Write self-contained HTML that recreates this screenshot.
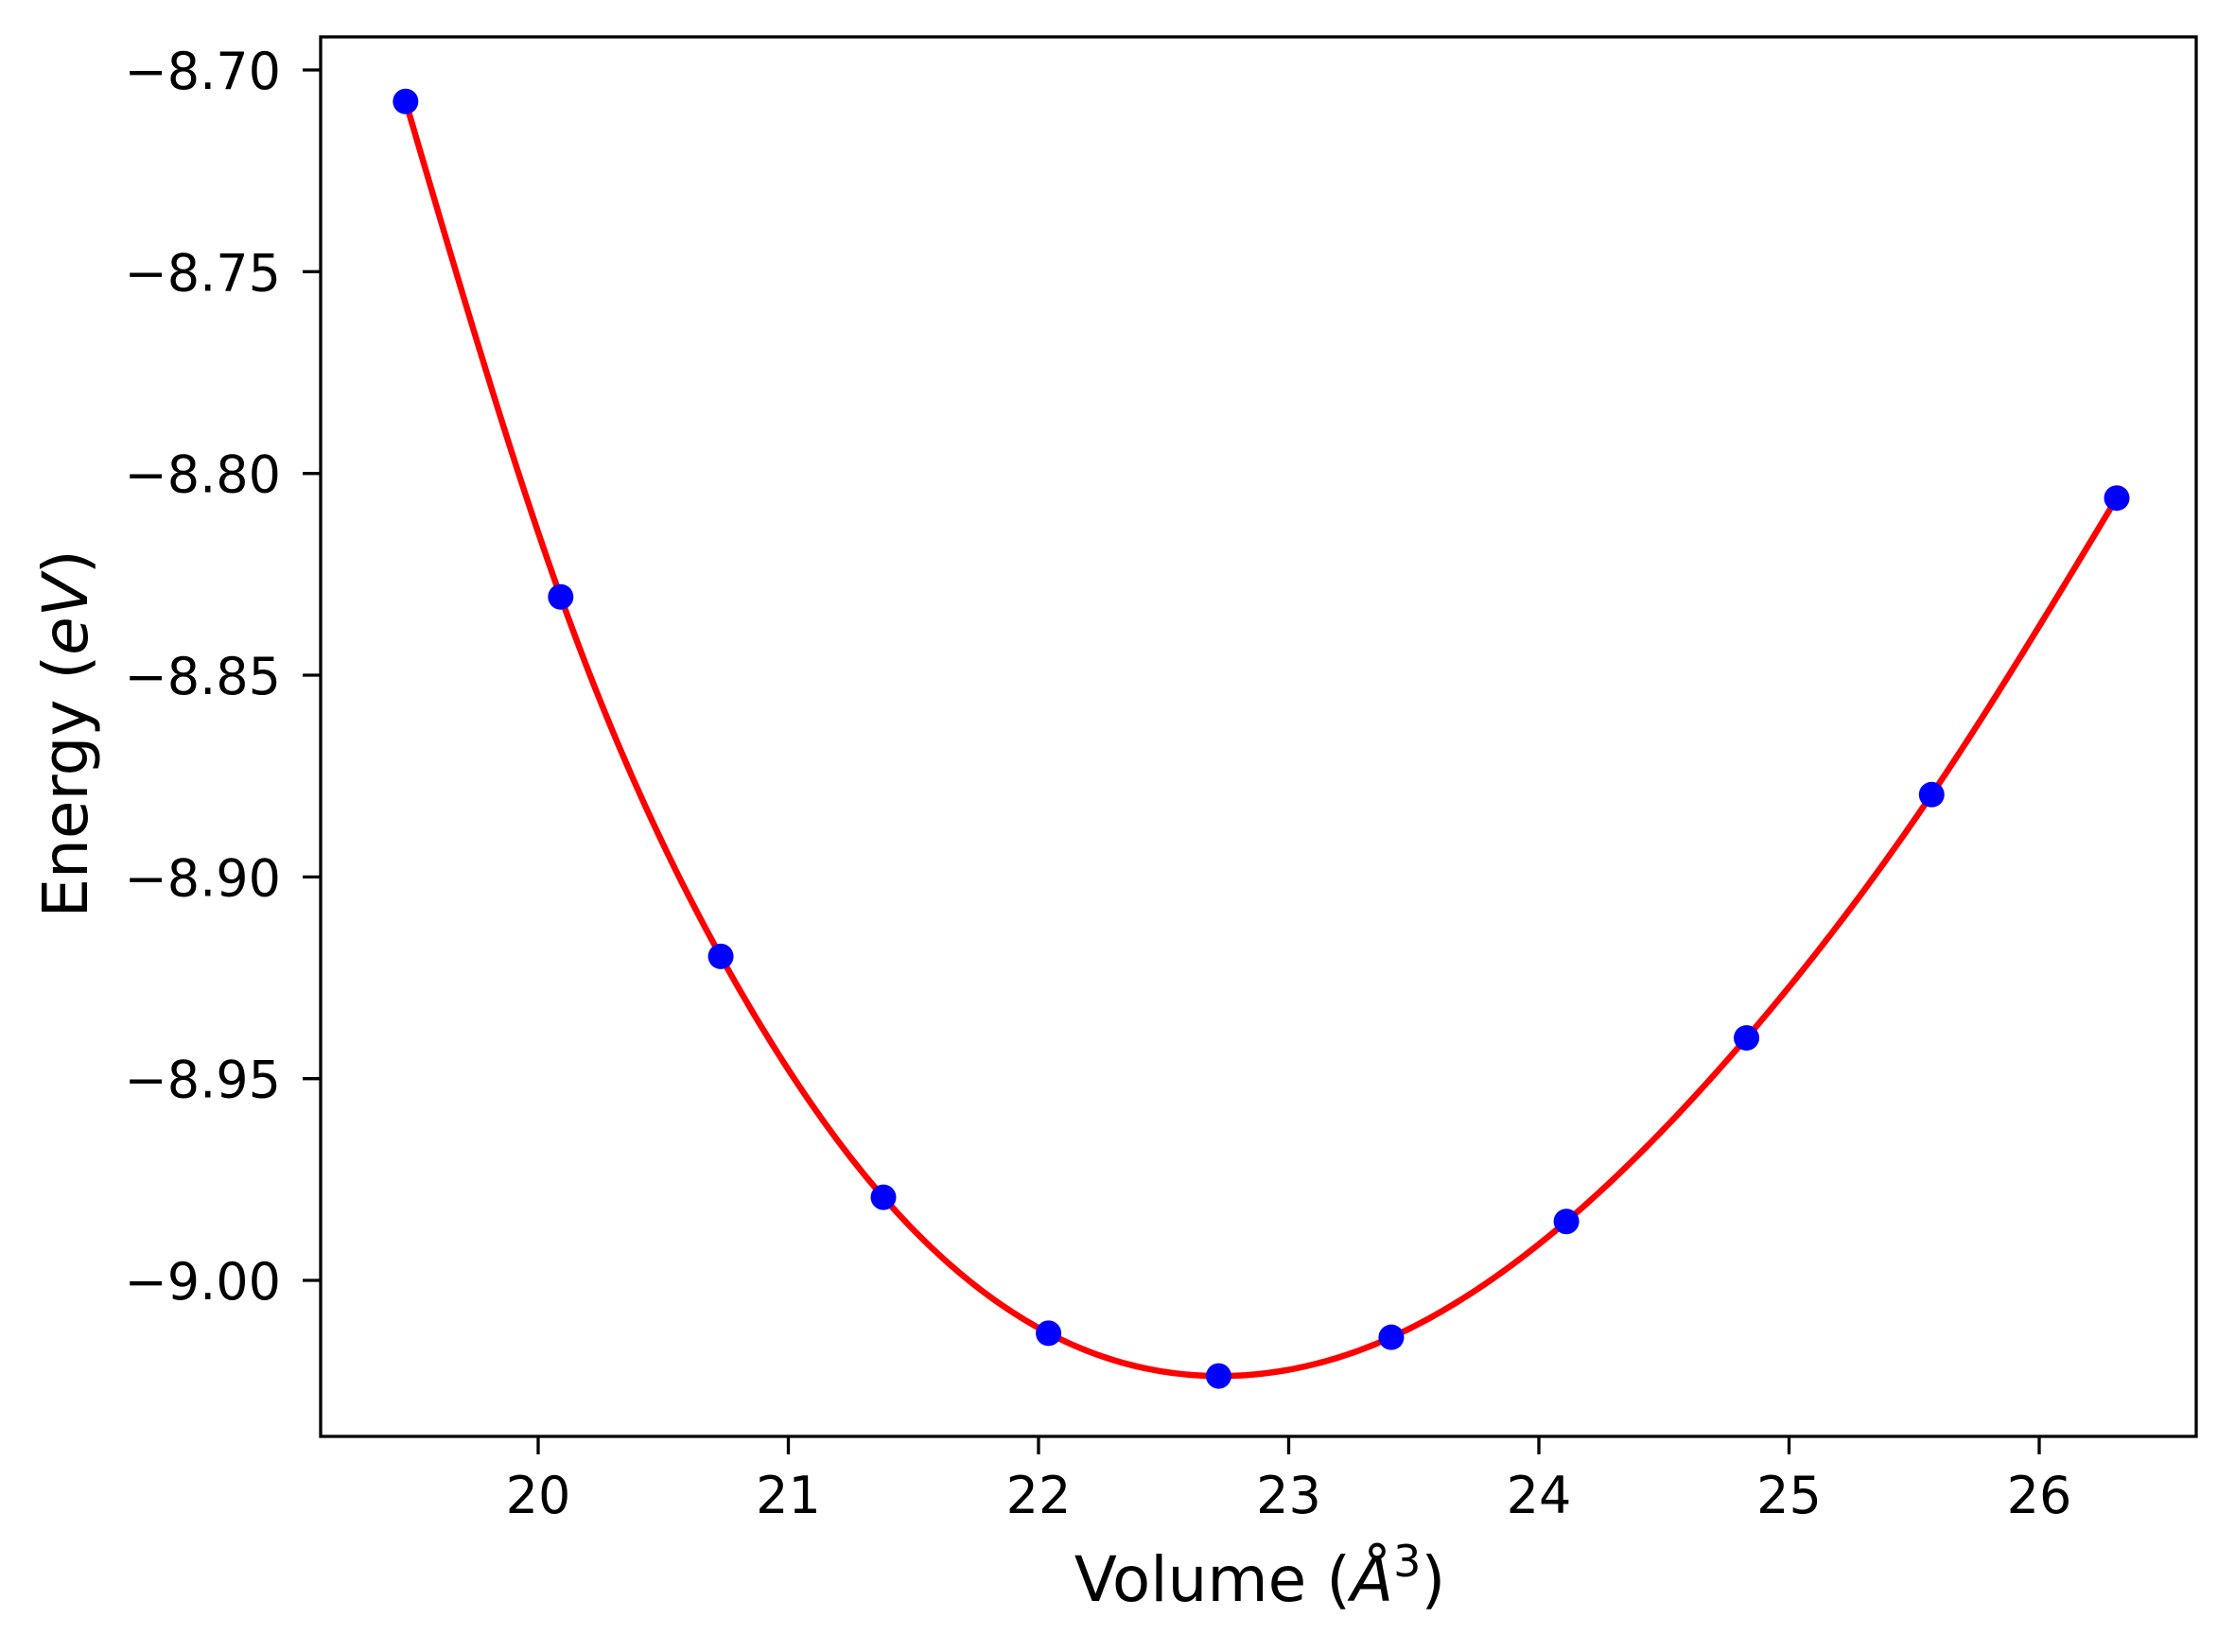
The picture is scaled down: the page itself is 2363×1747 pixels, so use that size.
<!DOCTYPE html>
<html><head><meta charset="utf-8"><style>
html,body{margin:0;padding:0;background:#fff}
svg{display:block}
text{font-family:"DejaVu Sans","Liberation Sans",sans-serif;fill:#000}
</style></head>
<body>
<svg id="chart" width="2363" height="1747" viewBox="0 0 2363 1747" xmlns="http://www.w3.org/2000/svg">
<rect x="0" y="0" width="2363" height="1747" fill="#fff"/>
<g id="plot"></g>
<rect x="339" y="39" width="1983" height="1480" fill="none" stroke="#000" stroke-width="3.3"/>
<g id="xticks"></g>
<g id="yticks"></g>
<text x="1332" y="1693" font-size="66" text-anchor="middle">Volume (<tspan font-style="italic">Å</tspan><tspan dy="-26" font-size="46">3</tspan><tspan dy="26">)</tspan></text>
<text transform="translate(92,776) rotate(-90)" font-size="66" text-anchor="middle">Energy (<tspan font-style="italic">eV</tspan>)</text>
</svg>
<script>
const volumes = [19.47, 20.09, 20.73, 21.38, 22.04, 22.72, 23.41, 24.11, 24.83, 25.57, 26.31];
const energies = [-8.7078, -8.8306, -8.9197, -8.9794, -9.0131, -9.0237, -9.0141, -8.9854, -8.9399, -8.8796, -8.8061];
const xTickValues = [20, 21, 22, 23, 24, 25, 26];
const xTickLabels = ["20", "21", "22", "23", "24", "25", "26"];
const yTickValues = [-8.70, -8.75, -8.80, -8.85, -8.90, -8.95, -9.00];
const yTickLabels = ["\u22128.70", "\u22128.75", "\u22128.80", "\u22128.85", "\u22128.90", "\u22128.95", "\u22129.00"];

const NS = "http://www.w3.org/2000/svg";
function xs(v){ return 569 + (v - 20) * 264.5; }
function ys(v){ return 74 + (-8.70 - v) * 4266.7; }
function mk(tag, attrs, parent){
  const el = document.createElementNS(NS, tag);
  for (const k in attrs) el.setAttribute(k, attrs[k]);
  parent.appendChild(el);
  return el;
}
const plot = document.getElementById('plot');
const xg = document.getElementById('xticks');
const yg = document.getElementById('yticks');

xTickValues.forEach((v, i) => {
  const t = mk('line', {x1: xs(v), x2: xs(v), y1: 1519, y2: 1538, stroke: '#000', 'stroke-width': 3.3}, xg);
  
  
  const l = mk('text', {x: xs(v), y: 1600, 'font-size': 54, 'text-anchor': 'middle'}, xg);
  l.textContent = xTickLabels[i];
  
  
});
yTickValues.forEach((v, i) => {
  const t = mk('line', {x1: 320, x2: 339, y1: ys(v), y2: ys(v), stroke: '#000', 'stroke-width': 3.3}, yg);
  
  
  const l = mk('text', {x: 297, y: ys(v) + 20, 'font-size': 54, 'text-anchor': 'end'}, yg);
  l.textContent = yTickLabels[i];
  
  
});

// natural cubic spline through the data points for the fitted curve
function spline(xv, yv){
  const n = xv.length, h = [], a = [], l = [1], mu = [0], z = [0], c = new Array(n).fill(0), b = [], d = [];
  for (let i = 0; i < n - 1; i++) h.push(xv[i+1] - xv[i]);
  for (let i = 1; i < n - 1; i++) a[i] = 3/h[i]*(yv[i+1]-yv[i]) - 3/h[i-1]*(yv[i]-yv[i-1]);
  for (let i = 1; i < n - 1; i++){
    l[i] = 2*(xv[i+1]-xv[i-1]) - h[i-1]*mu[i-1];
    mu[i] = h[i]/l[i];
    z[i] = (a[i] - h[i-1]*z[i-1])/l[i];
  }
  for (let j = n - 2; j >= 0; j--){
    c[j] = (j < n-1 && j > 0 ? z[j] - mu[j]*c[j+1] : (j===0?0:0));
    if (j > 0) c[j] = z[j] - mu[j]*c[j+1];
    b[j] = (yv[j+1]-yv[j])/h[j] - h[j]*(c[j+1] + 2*c[j])/3;
    d[j] = (c[j+1]-c[j])/(3*h[j]);
  }
  return function(x){
    let i = 0;
    while (i < n - 2 && x > xv[i+1]) i++;
    const dx = x - xv[i];
    return yv[i] + b[i]*dx + c[i]*dx*dx + d[i]*dx*dx*dx;
  };
}
const f = spline(volumes, energies);
const x0 = volumes[0], x1 = volumes[volumes.length - 1];
let dpath = '';
for (let k = 0; k <= 400; k++){
  const xv = x0 + (x1 - x0) * k / 400;
  dpath += (k ? 'L' : 'M') + xs(xv).toFixed(2) + ' ' + ys(f(xv)).toFixed(2);
}
const curve = mk('path', {d: dpath, fill: 'none', stroke: '#ff0000', 'stroke-width': 6.5, 'stroke-linejoin': 'round', 'stroke-linecap': 'round'}, plot);



volumes.forEach((v, i) => {
  const p = mk('circle', {cx: xs(v), cy: ys(energies[i]), r: 13.5, fill: '#0000ff'}, plot);
  
  
});
</script>
</body></html>
